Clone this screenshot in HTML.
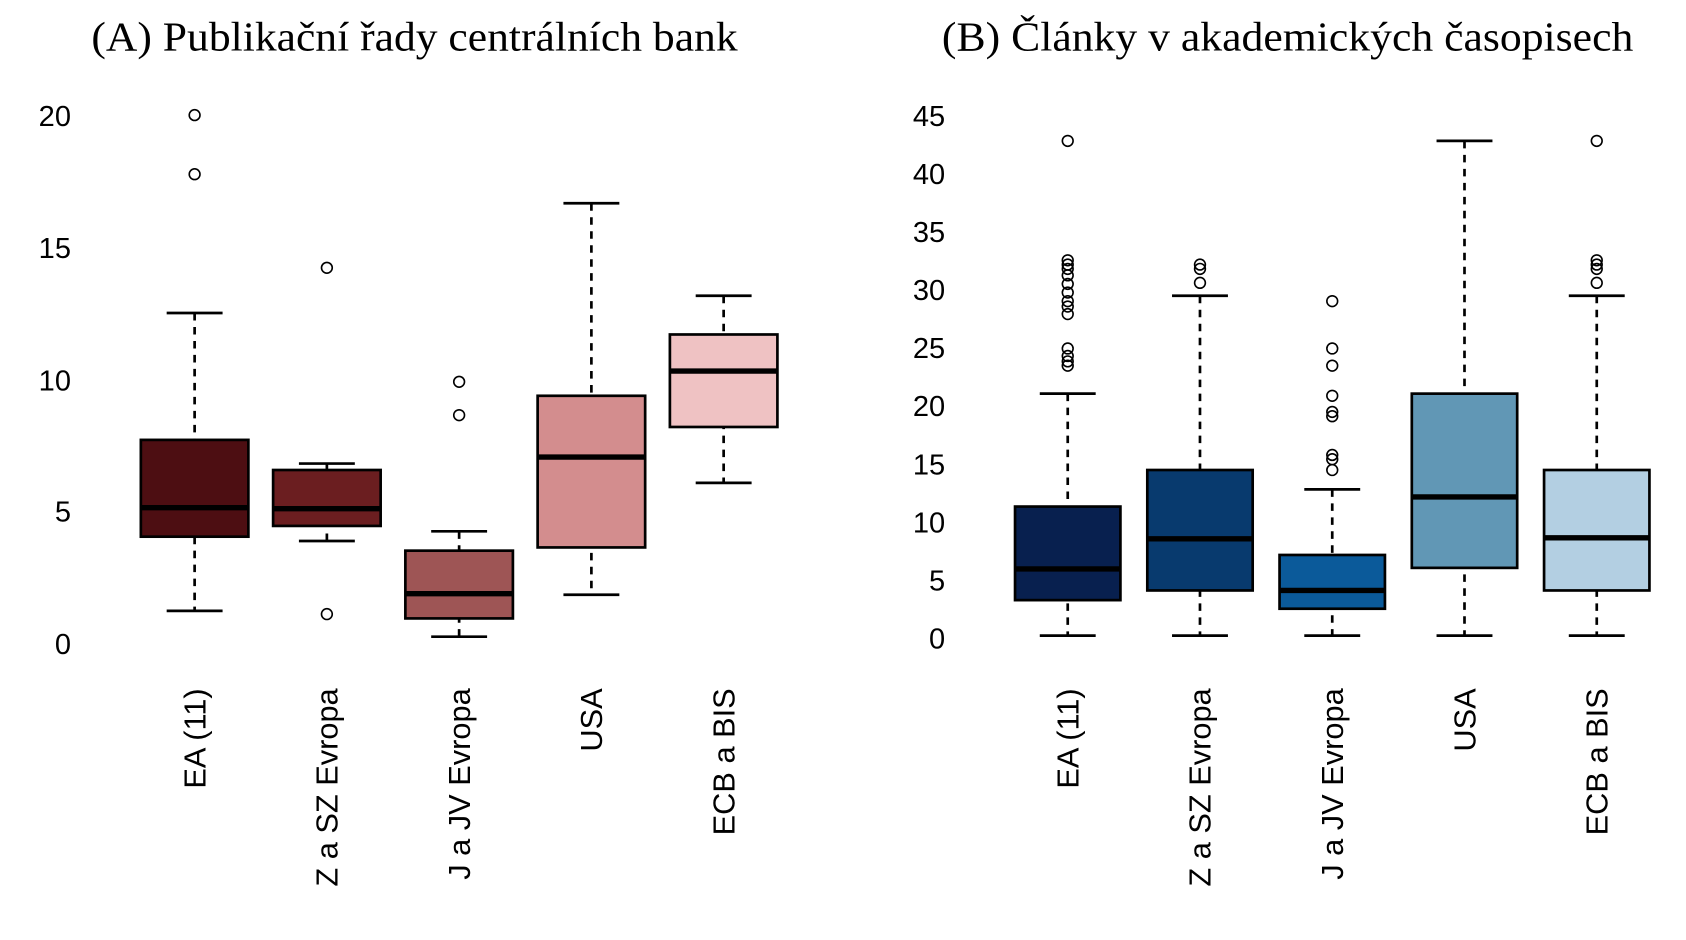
<!DOCTYPE html>
<html><head><meta charset="utf-8"><style>html,body{margin:0;padding:0;background:#fff}svg{display:block}</style></head>
<body>
<svg width="1686" height="940" viewBox="0 0 1568 874" preserveAspectRatio="none" xmlns="http://www.w3.org/2000/svg">
<g font-family="Liberation Serif, serif" font-size="38" fill="#000">
<text x="85" y="47" textLength="601" lengthAdjust="spacingAndGlyphs">(A) Publikační řady centrálních bank</text>
<text x="876" y="47" textLength="643" lengthAdjust="spacingAndGlyphs">(B) Články v akademických časopisech</text>
</g>
<g font-family="Liberation Sans, sans-serif" font-size="27" fill="#000" text-anchor="end">
<text x="66" y="117">20</text><text x="66" y="240">15</text><text x="66" y="363">10</text><text x="66" y="485">5</text><text x="66" y="608">0</text>
<text x="879" y="117">45</text><text x="879" y="171">40</text><text x="879" y="225">35</text><text x="879" y="279">30</text><text x="879" y="333">25</text><text x="879" y="387">20</text><text x="879" y="441">15</text><text x="879" y="495">10</text><text x="879" y="549">5</text><text x="879" y="603">0</text>
</g>
<g font-family="Liberation Sans, sans-serif" font-size="28.6" fill="#000" text-anchor="end">
<text transform="translate(191,640) rotate(-90)">EA (11)</text>
<text transform="translate(314,640) rotate(-90)">Z a SZ Evropa</text>
<text transform="translate(437,640) rotate(-90)">J a JV Evropa</text>
<text transform="translate(560,640) rotate(-90)">USA</text>
<text transform="translate(683,640) rotate(-90)">ECB a BIS</text>
<text transform="translate(1003,640) rotate(-90)">EA (11)</text>
<text transform="translate(1126,640) rotate(-90)">Z a SZ Evropa</text>
<text transform="translate(1249,640) rotate(-90)">J a JV Evropa</text>
<text transform="translate(1372,640) rotate(-90)">USA</text>
<text transform="translate(1495,640) rotate(-90)">ECB a BIS</text>
</g>
<g stroke="#000" stroke-width="2.5" fill="none">
<g><line x1="181" y1="291" x2="181" y2="568" stroke-dasharray="7,6"/><line x1="155" y1="291" x2="207" y2="291"/><line x1="155" y1="568" x2="207" y2="568"/><rect x="131" y="409" width="100" height="90" fill="#4d0e12"/><line x1="131" y1="472" x2="231" y2="472" stroke-width="5"/></g>
<g><line x1="304" y1="431" x2="304" y2="503" stroke-dasharray="7,6"/><line x1="278" y1="431" x2="330" y2="431"/><line x1="278" y1="503" x2="330" y2="503"/><rect x="254" y="437" width="100" height="52" fill="#6b1e20"/><line x1="254" y1="473" x2="354" y2="473" stroke-width="5"/></g>
<g><line x1="427" y1="494" x2="427" y2="592" stroke-dasharray="7,6"/><line x1="401" y1="494" x2="453" y2="494"/><line x1="401" y1="592" x2="453" y2="592"/><rect x="377" y="512" width="100" height="63" fill="#9e5555"/><line x1="377" y1="552" x2="477" y2="552" stroke-width="5"/></g>
<g><line x1="550" y1="189" x2="550" y2="553" stroke-dasharray="7,6"/><line x1="524" y1="189" x2="576" y2="189"/><line x1="524" y1="553" x2="576" y2="553"/><rect x="500" y="368" width="100" height="141" fill="#d38d8e"/><line x1="500" y1="425" x2="600" y2="425" stroke-width="5"/></g>
<g><line x1="673" y1="275" x2="673" y2="449" stroke-dasharray="7,6"/><line x1="647" y1="275" x2="699" y2="275"/><line x1="647" y1="449" x2="699" y2="449"/><rect x="623" y="311" width="100" height="86" fill="#efc2c3"/><line x1="623" y1="345" x2="723" y2="345" stroke-width="5"/></g>
<g><line x1="993" y1="366" x2="993" y2="591" stroke-dasharray="7,6"/><line x1="967" y1="366" x2="1019" y2="366"/><line x1="967" y1="591" x2="1019" y2="591"/><rect x="944" y="471" width="98" height="87" fill="#08204f"/><line x1="944" y1="529" x2="1042" y2="529" stroke-width="5"/></g>
<g><line x1="1116" y1="275" x2="1116" y2="591" stroke-dasharray="7,6"/><line x1="1090" y1="275" x2="1142" y2="275"/><line x1="1090" y1="591" x2="1142" y2="591"/><rect x="1067" y="437" width="98" height="112" fill="#083a6e"/><line x1="1067" y1="501" x2="1165" y2="501" stroke-width="5"/></g>
<g><line x1="1239" y1="455" x2="1239" y2="591" stroke-dasharray="7,6"/><line x1="1213" y1="455" x2="1265" y2="455"/><line x1="1213" y1="591" x2="1265" y2="591"/><rect x="1190" y="516" width="98" height="50" fill="#0b5a9a"/><line x1="1190" y1="549" x2="1288" y2="549" stroke-width="5"/></g>
<g><line x1="1362" y1="131" x2="1362" y2="591" stroke-dasharray="7,6"/><line x1="1336" y1="131" x2="1388" y2="131"/><line x1="1336" y1="591" x2="1388" y2="591"/><rect x="1313" y="366" width="98" height="162" fill="#6197b5"/><line x1="1313" y1="462" x2="1411" y2="462" stroke-width="5"/></g>
<g><line x1="1485" y1="275" x2="1485" y2="591" stroke-dasharray="7,6"/><line x1="1459" y1="275" x2="1511" y2="275"/><line x1="1459" y1="591" x2="1511" y2="591"/><rect x="1436" y="437" width="98" height="112" fill="#b3cfe2"/><line x1="1436" y1="500" x2="1534" y2="500" stroke-width="5"/></g>
</g>
<g stroke="#000" stroke-width="1.5" fill="none">
<circle cx="181" cy="107" r="5"/><circle cx="181" cy="162" r="5"/>
<circle cx="304" cy="249" r="5"/><circle cx="304" cy="571" r="5"/>
<circle cx="427" cy="355" r="5"/><circle cx="427" cy="386" r="5"/>
<circle cx="993" cy="131" r="5"/><circle cx="993" cy="242" r="5"/><circle cx="993" cy="246" r="5"/><circle cx="993" cy="250" r="5"/><circle cx="993" cy="256" r="5"/><circle cx="993" cy="264" r="5"/><circle cx="993" cy="272" r="5"/><circle cx="993" cy="280" r="5"/><circle cx="993" cy="285" r="5"/><circle cx="993" cy="292" r="5"/><circle cx="993" cy="324" r="5"/><circle cx="993" cy="331" r="5"/><circle cx="993" cy="336" r="5"/><circle cx="993" cy="340" r="5"/>
<circle cx="1116" cy="246" r="5"/><circle cx="1116" cy="250" r="5"/><circle cx="1116" cy="263" r="5"/>
<circle cx="1239" cy="280" r="5"/><circle cx="1239" cy="324" r="5"/><circle cx="1239" cy="340" r="5"/><circle cx="1239" cy="368" r="5"/><circle cx="1239" cy="383" r="5"/><circle cx="1239" cy="387" r="5"/><circle cx="1239" cy="423" r="5"/><circle cx="1239" cy="427" r="5"/><circle cx="1239" cy="437" r="5"/>
<circle cx="1485" cy="131" r="5"/><circle cx="1485" cy="242" r="5"/><circle cx="1485" cy="246" r="5"/><circle cx="1485" cy="250" r="5"/><circle cx="1485" cy="263" r="5"/>
</g>
</svg>
</body></html>
